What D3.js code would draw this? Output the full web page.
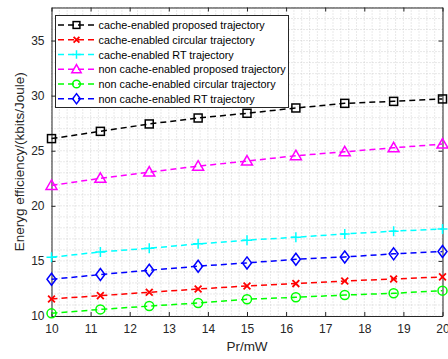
<!DOCTYPE html>
<html><head><meta charset="utf-8">
<script src="https://cdn.jsdelivr.net/npm/d3@7"></script>
<style>body{margin:0;background:#fff}svg{display:block;font-family:"Liberation Sans",Arial,sans-serif}</style>
</head><body><svg id="c" width="448" height="359"></svg>
<script>
const xValues = [10, 11.25, 12.5, 13.75, 15, 16.25, 17.5, 18.75, 20];
const cacheProposed = [26.1, 26.76, 27.43, 27.97, 28.4, 28.88, 29.3, 29.48, 29.7];
const cacheCircular = [11.55, 11.85, 12.15, 12.45, 12.73, 12.94, 13.18, 13.36, 13.55];
const cacheRT = [15.33, 15.82, 16.15, 16.55, 16.88, 17.15, 17.45, 17.7, 17.9];
const nonProposed = [21.85, 22.5, 23.06, 23.6, 24.06, 24.55, 24.9, 25.27, 25.6];
const nonCircular = [10.24, 10.6, 10.9, 11.18, 11.52, 11.7, 11.9, 12.06, 12.3];
const nonRT = [13.33, 13.76, 14.15, 14.52, 14.82, 15.15, 15.36, 15.64, 15.85];
const seriesNames = ["cache-enabled proposed trajectory","cache-enabled circular trajectory","cache-enabled RT trajectory","non cache-enabled proposed trajectory","non cache-enabled circular trajectory","non cache-enabled RT trajectory"];
const xTicks = [10,11,12,13,14,15,16,17,18,19,20];
const yTicks = [10,15,20,25,30,35];
const xLabel = "Pr/mW";
const yLabel = "Eneryg efficiency/(kbits/Joule)";

const series = [
  {name: seriesNames[0], values: cacheProposed, color: "#000000", marker: "square"},
  {name: seriesNames[1], values: cacheCircular, color: "#ff0000", marker: "x"},
  {name: seriesNames[2], values: cacheRT, color: "#00ffff", marker: "plus"},
  {name: seriesNames[3], values: nonProposed, color: "#ff00ff", marker: "triangle"},
  {name: seriesNames[4], values: nonCircular, color: "#00ff00", marker: "circle"},
  {name: seriesNames[5], values: nonRT, color: "#0000ff", marker: "diamond"}
];

const svg = d3.select("#c");
const L = 51.5, R = 442.5, T = 7.5, B = 316;
const x = d3.scaleLinear().domain([10, 20]).range([L, R]);
const y = d3.scaleLinear().domain([10, 38]).range([B, T]);

// grid
const g = svg.append("g");
const minorX = d3.range(10, 20.001, 0.2);
const minorY = d3.range(10, 38.001, 1);
g.selectAll(".gx").data(minorX).enter().append("line")
  .attr("x1", d => x(d)).attr("x2", d => x(d)).attr("y1", T).attr("y2", B)
  .attr("stroke", "#c0c0c0").attr("stroke-width", 0.7).attr("stroke-dasharray", "1,2");
g.selectAll(".gy").data(minorY).enter().append("line")
  .attr("y1", d => y(d)).attr("y2", d => y(d)).attr("x1", L).attr("x2", R)
  .attr("stroke", "#c0c0c0").attr("stroke-width", 0.7).attr("stroke-dasharray", "1,2");

// axes
const fmt = d3.format("d");
const ax = svg.append("g").attr("transform", `translate(0,${B})`)
  .call(d3.axisBottom(x).tickValues(xTicks).tickFormat(fmt).tickSizeInner(-4).tickSizeOuter(0).tickPadding(8));
const axT = svg.append("g").attr("transform", `translate(0,${T})`)
  .call(d3.axisTop(x).tickValues(xTicks).tickFormat("").tickSizeInner(-4).tickSizeOuter(0));
const ay = svg.append("g").attr("transform", `translate(${L},0)`)
  .call(d3.axisLeft(y).tickValues(yTicks).tickFormat(fmt).tickSizeInner(-4).tickSizeOuter(0).tickPadding(7));
const ayR = svg.append("g").attr("transform", `translate(${R},0)`)
  .call(d3.axisRight(y).tickValues(yTicks).tickFormat("").tickSizeInner(-4).tickSizeOuter(0));
[ax, axT, ay, ayR].forEach(a => {
  a.select(".domain").attr("stroke", "#262626").attr("stroke-width", 1);
  a.selectAll(".tick line").attr("stroke", "#262626");
  a.selectAll(".tick text").attr("font-size", 12).attr("fill", "#262626").attr("font-family", "Liberation Sans, Arial, sans-serif");
});

// markers
function drawMarker(sel, type, color, cx, cy, k) {
  k = k || 1;
  const sw = 1.5;
  if (type === "square") sel.append("rect").attr("x", cx - 4*k).attr("y", cy - 4*k).attr("width", 8*k).attr("height", 8*k).attr("fill", "none").attr("stroke", color).attr("stroke-width", sw);
  else if (type === "circle") sel.append("circle").attr("cx", cx).attr("cy", cy).attr("r", 4.5*k).attr("fill", "none").attr("stroke", color).attr("stroke-width", sw);
  else if (type === "diamond") sel.append("path").attr("d", `M${cx},${cy-6*k}L${cx+4.5*k},${cy}L${cx},${cy+6*k}L${cx-4.5*k},${cy}Z`).attr("fill", "none").attr("stroke", color).attr("stroke-width", sw);
  else if (type === "triangle") sel.append("path").attr("d", `M${cx},${cy-5.5*k}L${cx+5.5*k},${cy+4*k}L${cx-5.5*k},${cy+4*k}Z`).attr("fill", "none").attr("stroke", color).attr("stroke-width", sw);
  else if (type === "plus") sel.append("path").attr("d", `M${cx-5*k},${cy}L${cx+5*k},${cy}M${cx},${cy-5*k}L${cx},${cy+5*k}`).attr("stroke", color).attr("stroke-width", sw);
  else if (type === "x") sel.append("path").attr("d", `M${cx-3.4*k},${cy-3.4*k}L${cx+3.4*k},${cy+3.4*k}M${cx-3.4*k},${cy+3.4*k}L${cx+3.4*k},${cy-3.4*k}`).attr("stroke", color).attr("stroke-width", 1.8);
}

const line = d3.line().x((d, i) => x(xValues[i])).y(d => y(d));
const plot = svg.append("g");
series.forEach(s => {
  plot.append("path").datum(s.values).attr("d", line).attr("fill", "none")
    .attr("stroke", s.color).attr("stroke-width", 1.5).attr("stroke-dasharray", "6,4");
  const mg = plot.append("g");
  s.values.forEach((v, i) => drawMarker(mg, s.marker, s.color, x(xValues[i]), y(v)));
});

// legend
const lg = svg.append("g");
lg.append("rect").attr("x", 55.5).attr("y", 15.5).attr("width", 233).attr("height", 92)
  .attr("fill", "#fff").attr("stroke", "#262626").attr("stroke-width", 1);
series.forEach((s, i) => {
  const cy = 25 + i * 14.75;
  lg.append("line").attr("x1", 58).attr("x2", 95).attr("y1", cy).attr("y2", cy)
    .attr("stroke", s.color).attr("stroke-width", 1.5).attr("stroke-dasharray", "6,4");
  drawMarker(lg, s.marker, s.color, 76.5, cy, 0.85);
  lg.append("text").attr("x", 98.5).attr("y", cy + 4).attr("font-size", 10.8).attr("fill", "#000").text(s.name);
});

// labels
svg.append("text").attr("x", (L + R) / 2).attr("y", 351).attr("text-anchor", "middle").attr("font-size", 13.5).attr("fill", "#262626").text(xLabel);
svg.append("text").attr("transform", `translate(24,${(T + B) / 2}) rotate(-90)`).attr("text-anchor", "middle").attr("font-size", 13.5).attr("fill", "#262626").text(yLabel);
</script></body></html>
